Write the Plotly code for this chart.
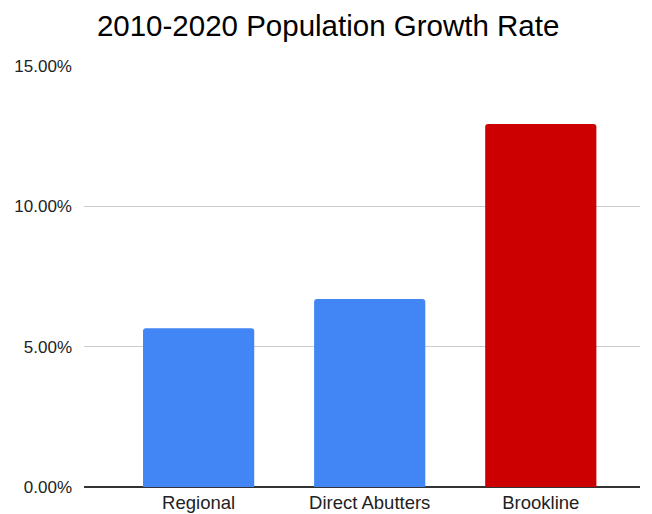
import plotly.graph_objects as go

categories = ["Regional", "Direct Abutters", "Brookline"]
growth = [0.0566, 0.0670, 0.1293]
colors = ["#4285F4", "#4285F4", "#CC0000"]
y_ticks = [0, 0.05, 0.10, 0.15]

fig = go.Figure(go.Bar(
    x=categories, y=growth, marker_color=colors, width=0.65,
    marker_line_width=0,
))
fig.update_layout(
    width=652, height=514,
    margin=dict(l=76, r=20, t=58, b=35),
    plot_bgcolor="white", paper_bgcolor="white",
    font=dict(family="Liberation Sans, Arial", color="#222222", size=17),
    title=dict(text="2010-2020 Population Growth Rate", x=0.491, xref="container",
               y=0.965, yref="container", yanchor="middle",
               font=dict(size=29.5, color="#000000")),
    barcornerradius=3,
    showlegend=False,
)
fig.update_xaxes(range=[-0.67, 2.58], showgrid=False, showline=False,
                 ticks="", automargin=False, ticklabelstandoff=2,
                 tickfont=dict(size=18.5, color="#222222"))
fig.update_yaxes(range=[0, 0.15], tickvals=y_ticks, tickformat=".2%",
                 showgrid=True, gridcolor="#CCCCCC", gridwidth=1,
                 zeroline=True, zerolinecolor="#333333", zerolinewidth=1.5,
                 ticks="", ticklabelstandoff=11, automargin=False,
                 tickfont=dict(size=17, color="#222222"))
fig.write_html("out.html")
